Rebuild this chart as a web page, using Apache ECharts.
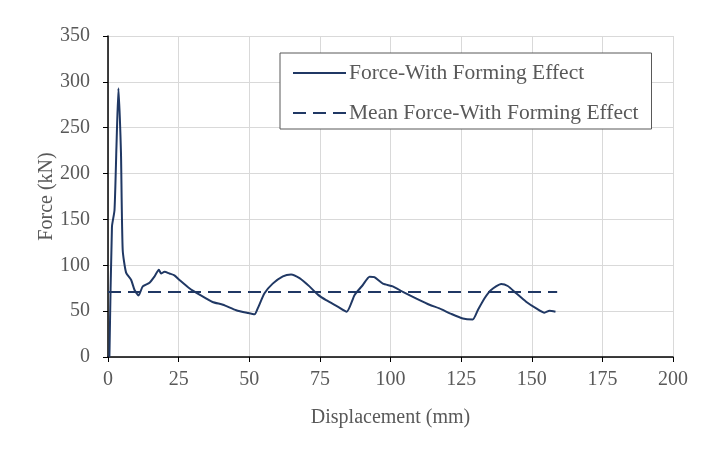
<!DOCTYPE html>
<html>
<head>
<meta charset="utf-8">
<script src="https://cdn.jsdelivr.net/npm/echarts@6/dist/echarts.min.js"></script>
<style>
  html, body { margin: 0; padding: 0; background: #fff; }
  #main { width: 712px; height: 451px; }
</style>
</head>
<body>
<div id="main"></div>
<script>
// displacement (mm) and force (kN)
var disp = [0.5, 1.4, 2.3, 3.0, 3.7, 4.2, 4.6, 5.2, 6.4, 8.2, 9.4, 10.8, 12.3, 14.7, 16.5, 18, 18.8, 20, 21.8, 23.5, 25.3, 28.8, 32.4, 37, 40.7, 45.4, 49.5, 51.9, 53, 55.4, 58.3, 61.9, 64.8, 67.8, 71.3, 74.3, 77.2, 81.3, 84.5, 87.3, 90.2, 92.6, 94.3, 97.3, 100.8, 104.4, 109, 113.8, 117.3, 121.5, 125.6, 129.1, 130.9, 133.3, 135.6, 139.2, 141.5, 144.5, 148, 151.6, 154.5, 156.3, 158.4];
var force = [0, 142, 160, 230, 293, 260, 222, 117, 92, 84, 73, 67, 77, 81, 88, 95, 91, 93, 91, 89, 84, 75, 68, 60, 57, 51, 48, 46.6, 53, 69.5, 80, 88, 90, 86, 77, 68, 62, 55, 49.4, 67.6, 78.5, 87.6, 87, 80, 77, 71, 64, 57, 53, 47, 42, 41, 51, 64, 73, 79.6, 77.4, 69.5, 60.3, 53, 48.3, 50.5, 49.4];
var meanX = [0, 159];
var meanForce = 71;

var seriesNames = ['Force-With Forming Effect', 'Mean Force-With Forming Effect'];

(function () {
  var myChart = echarts.init(document.getElementById('main'));
  var fontFam = '"Liberation Serif", "Times New Roman", serif';
  var lineColor = '#203864';

  var curve = disp.map(function (d, i) { return [d, force[i]]; });
  var mean = meanX.map(function (d) { return [d, meanForce]; });

  var option = {
    backgroundColor: '#fff',
    animation: false,
    grid: { left: 108, right: 39, top: 36, bottom: 94 },
    legend: {
      orient: 'vertical',
      left: 280,
      top: 53,
      padding: [9, 13, 5, 12],
      backgroundColor: '#fff',
      borderColor: '#595959',
      borderWidth: 1,
      itemWidth: 53,
      itemHeight: 12,
      itemGap: 18,
      itemStyle: { opacity: 0 },
      textStyle: { fontFamily: fontFam, fontSize: 21.5, color: '#595959', padding: [0, 0, 0, -2] },
      data: seriesNames
    },
    xAxis: {
      type: 'value',
      min: 0, max: 200, interval: 25,
      name: 'Displacement (mm)',
      nameLocation: 'middle',
      nameGap: 51,
      nameTextStyle: { fontFamily: fontFam, fontSize: 20, color: '#595959' },
      axisLine: { lineStyle: { color: '#000', width: 1.5 } },
      axisTick: { show: true, length: 5, lineStyle: { color: '#000' } },
      axisLabel: { fontFamily: fontFam, fontSize: 20, color: '#595959', margin: 13 },
      splitLine: { show: true, lineStyle: { color: '#d9d9d9' } }
    },
    yAxis: {
      type: 'value',
      min: 0, max: 350, interval: 50,
      name: 'Force (kN)',
      nameLocation: 'middle',
      nameGap: 51,
      nameMoveOverlap: false,
      nameTextStyle: { fontFamily: fontFam, fontSize: 20, color: '#595959' },
      axisLine: { show: true, lineStyle: { color: '#000', width: 1.5 } },
      axisTick: { show: true, length: 5, lineStyle: { color: '#000' } },
      axisLabel: { fontFamily: fontFam, fontSize: 20, color: '#595959', margin: 18 },
      splitLine: { show: true, lineStyle: { color: '#d9d9d9' } }
    },
    series: [
      {
        name: seriesNames[0],
        type: 'line',
        data: curve,
        showSymbol: false,
        symbol: 'none',
        smooth: 0.2,
        lineStyle: { color: lineColor, width: 2 },
        itemStyle: { color: lineColor }
      },
      {
        name: seriesNames[1],
        type: 'line',
        data: mean,
        showSymbol: false,
        symbol: 'none',
        lineStyle: { color: lineColor, width: 2, type: [13, 7] },
        itemStyle: { color: lineColor }
      }
    ]
  };

  myChart.setOption(option);
  window.addEventListener('resize', function () { myChart.resize(); });
})();
</script>
</body>
</html>
